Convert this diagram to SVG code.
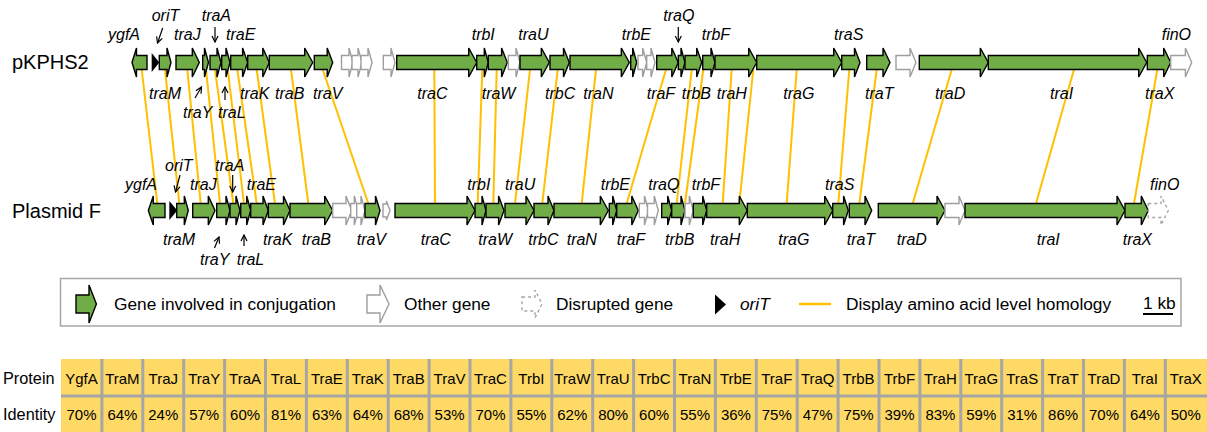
<svg xmlns="http://www.w3.org/2000/svg" width="1207" height="432" viewBox="0 0 1207 432">
<defs>
<style>
.g{fill:#70AD47;stroke:#000;stroke-width:1.4}
.o{fill:#fff;stroke:#9E9E9E;stroke-width:1.4}
.d{fill:none;stroke:#A6A6A6;stroke-width:1.4;stroke-dasharray:3 3}
.ori{fill:#000}
.hom line{stroke:#FFC000;stroke-width:2}
.lab{font-family:"Liberation Sans",Arial,sans-serif;font-size:16px;font-style:italic;fill:#000}
.ptr{stroke:#000;stroke-width:1.2;fill:none;marker-end:url(#tip)}
.trk{font-family:"Liberation Sans",Arial,sans-serif;font-size:20px;fill:#000}
.leg{font-family:"Liberation Sans",Arial,sans-serif;font-size:17.3px;fill:#000}
.cell{font-family:"Liberation Sans",Arial,sans-serif;font-size:15px;fill:#000;text-anchor:middle}
.rowlab{font-family:"Liberation Sans",Arial,sans-serif;font-size:16.3px;fill:#000}
</style>
<marker id="tip" viewBox="0 0 8 8" refX="7" refY="4" markerWidth="8" markerHeight="8" markerUnits="userSpaceOnUse" orient="auto">
<path d="M1,1L7,4L1,7" fill="none" stroke="#000" stroke-width="1.2"/>
</marker>
</defs>
<rect width="1207" height="432" fill="#fff"/>

<!-- homology connectors between the two plasmids -->
<g id="connectors" class="hom">
<line x1="141.7" y1="69.5" x2="157.3" y2="203.5"/>
<line x1="165" y1="69.5" x2="179.3" y2="203.5"/>
<line x1="187.3" y1="69.5" x2="200.7" y2="203.5"/>
<line x1="206" y1="69.5" x2="220" y2="203.5"/>
<line x1="215" y1="69.5" x2="233.3" y2="203.5"/>
<line x1="227.7" y1="69.5" x2="244" y2="203.5"/>
<line x1="237.3" y1="69.5" x2="256.7" y2="203.5"/>
<line x1="256.7" y1="69.5" x2="275" y2="203.5"/>
<line x1="291" y1="69.5" x2="308.3" y2="203.5"/>
<line x1="322.7" y1="69.5" x2="368.3" y2="203.5"/>
<line x1="434.3" y1="69.5" x2="435" y2="203.5"/>
<line x1="482.3" y1="69.5" x2="477.7" y2="203.5"/>
<line x1="496.7" y1="69.5" x2="493.3" y2="203.5"/>
<line x1="530" y1="69.5" x2="515" y2="203.5"/>
<line x1="557.7" y1="69.5" x2="542.3" y2="203.5"/>
<line x1="596" y1="69.5" x2="581.7" y2="203.5"/>
<line x1="666" y1="69.5" x2="626.7" y2="203.5"/>
<line x1="691.7" y1="69.5" x2="676.7" y2="203.5"/>
<line x1="703.3" y1="69.5" x2="685" y2="203.5"/>
<line x1="731.7" y1="69.5" x2="722.7" y2="203.5"/>
<line x1="753.3" y1="69.5" x2="739.3" y2="203.5"/>
<line x1="796.7" y1="69.5" x2="786.7" y2="203.5"/>
<line x1="849.3" y1="69.5" x2="838.3" y2="203.5"/>
<line x1="876.7" y1="69.5" x2="859.3" y2="203.5"/>
<line x1="951.7" y1="69.5" x2="912.7" y2="203.5"/>
<line x1="1074" y1="69.5" x2="1036" y2="203.5"/>
<line x1="1157.3" y1="69.5" x2="1134" y2="203.5"/>
</g>

<!-- pKPHS2 -->
<g id="pKPHS2">
<text class="trk" x="12" y="69">pKPHS2</text>
<g id="a-ygfA"><path class="g" d="M147,55.5H136.5V48L132,62.5L136.5,77V69.5H147Z"/><text class="lab" x="108" y="40">ygfA</text></g>
<g id="a-traM"><path class="g" d="M159.3,55.5H167V48L171,62.5L167,77V69.5H159.3Z"/><text class="lab" x="149" y="99">traM</text></g>
<g id="a-oriT"><path class="ori" d="M151.7,53L159.3,62.5L151.7,72Z"/><text class="lab" x="151.7" y="21">oriT</text><path class="ptr" d="M162.7,28L157.5,43"/></g>
<g id="a-traJ"><path class="g" d="M176,55.5H192.3V48L199.3,62.5L192.3,77V69.5H176Z"/><text class="lab" x="174" y="40">traJ</text></g>
<g id="a-traY"><path class="g" d="M202.7,55.5H204.5V48L208.5,62.5L204.5,77V69.5H202.7Z"/><text class="lab" x="183" y="118">traY</text><path class="ptr" d="M195,98L201.5,87"/></g>
<g id="a-traA"><path class="g" d="M210,55.5H217V48L221,62.5L217,77V69.5H210Z"/><text class="lab" x="201.7" y="21">traA</text><path class="ptr" d="M215,27V42"/></g>
<g id="a-traL"><path class="g" d="M221.7,55.5H226V48L230,62.5L226,77V69.5H221.7Z"/><text class="lab" x="218" y="118">traL</text><path class="ptr" d="M225,100V87"/></g>
<g id="a-traE"><path class="g" d="M230.7,55.5H242.6V48L247.7,62.5L242.6,77V69.5H230.7Z"/><text class="lab" x="226" y="40">traE</text></g>
<g id="a-traK"><path class="g" d="M247.7,55.5H262.8V48L269.3,62.5L262.8,77V69.5H247.7Z"/><text class="lab" x="240" y="99">traK</text></g>
<g id="a-traB"><path class="g" d="M269.3,55.5H304.7V48L312.7,62.5L304.7,77V69.5H269.3Z"/><text class="lab" x="275" y="99">traB</text></g>
<g id="a-traV"><path class="g" d="M314.3,55.5H327.2V48L332.7,62.5L327.2,77V69.5H314.3Z"/><text class="lab" x="313" y="99">traV</text></g>
<g id="a-other1">
<path class="o" d="M341.5,55.5H349V48L353,62.5L349,77V69.5H341.5Z"/>
<path class="o" d="M352,55.5H358V48L362,62.5L358,77V69.5H352Z"/>
<path class="o" d="M361,55.5H368V48L372,62.5L368,77V69.5H361Z"/>
<path class="o" d="M383.3,55.5H391V48L395,62.5L391,77V69.5H383.3Z"/>
</g>
<g id="a-traC"><path class="g" d="M396.7,55.5H468.7V48L476.7,62.5L468.7,77V69.5H396.7Z"/><text class="lab" x="417.3" y="99">traC</text></g>
<g id="a-trbI"><path class="g" d="M476.7,55.5H484.3V48L488.3,62.5L484.3,77V69.5H476.7Z"/><text class="lab" x="471.7" y="40">trbI</text></g>
<g id="a-traW"><path class="g" d="M488.3,55.5H501.6V48L507.3,62.5L501.6,77V69.5H488.3Z"/><text class="lab" x="481.7" y="99">traW</text></g>
<g id="a-other2"><path class="o" d="M508.3,55.5H516V48L520,62.5L516,77V69.5H508.3Z"/></g>
<g id="a-traU"><path class="g" d="M520,55.5H541.3V48L549.3,62.5L541.3,77V69.5H520Z"/><text class="lab" x="518.3" y="40">traU</text></g>
<g id="a-trbC"><path class="g" d="M550,55.5H563.5V48L569.3,62.5L563.5,77V69.5H550Z"/><text class="lab" x="545" y="99">trbC</text></g>
<g id="a-traN"><path class="g" d="M570,55.5H621.3V48L629.3,62.5L621.3,77V69.5H570Z"/><text class="lab" x="583.3" y="99">traN</text></g>
<g id="a-trbE"><path class="g" d="M630.7,55.5H632.7V48L636.7,62.5L632.7,77V69.5H630.7Z"/><text class="lab" x="621.7" y="40">trbE</text></g>
<g id="a-other3">
<path class="o" d="M638,55.5H642.7V48L646.7,62.5L642.7,77V69.5H638Z"/>
<path class="o" d="M646.7,55.5H651V48L655,62.5L651,77V69.5H646.7Z"/>
</g>
<g id="a-traF"><path class="g" d="M656.7,55.5H671.8V48L678.3,62.5L671.8,77V69.5H656.7Z"/><text class="lab" x="646.7" y="99">traF</text></g>
<g id="a-traQ"><path class="g" d="M678.3,55.5H681V48L685,62.5L681,77V69.5H678.3Z"/><text class="lab" x="663.3" y="21">traQ</text><path class="ptr" d="M678.3,27V42"/></g>
<g id="a-trbB"><path class="g" d="M685,55.5H696.7V48L701.7,62.5L696.7,77V69.5H685Z"/><text class="lab" x="681.7" y="99">trbB</text></g>
<g id="a-trbF"><path class="g" d="M702.7,55.5H711V48L715,62.5L711,77V69.5H702.7Z"/><text class="lab" x="701.7" y="40">trbF</text></g>
<g id="a-traH"><path class="g" d="M715,55.5H748.7V48L756.7,62.5L748.7,77V69.5H715Z"/><text class="lab" x="716.7" y="99">traH</text></g>
<g id="a-traG"><path class="g" d="M756.7,55.5H833.7V48L841.7,62.5L833.7,77V69.5H756.7Z"/><text class="lab" x="783.3" y="99">traG</text></g>
<g id="a-traS"><path class="g" d="M841.7,55.5H854.5V48L860,62.5L854.5,77V69.5H841.7Z"/><text class="lab" x="834" y="40">traS</text></g>
<g id="a-traT"><path class="g" d="M866.7,55.5H883V48L890,62.5L883,77V69.5H866.7Z"/><text class="lab" x="865" y="99">traT</text></g>
<g id="a-other4"><path class="o" d="M896,55.5H910V48L916,62.5L910,77V69.5H896Z"/></g>
<g id="a-traD"><path class="g" d="M919.3,55.5H980.3V48L988.3,62.5L980.3,77V69.5H919.3Z"/><text class="lab" x="935" y="99">traD</text></g>
<g id="a-traI"><path class="g" d="M988.3,55.5H1138.7V48L1146.7,62.5L1138.7,77V69.5H988.3Z"/><text class="lab" x="1050" y="99">traI</text></g>
<g id="a-traX"><path class="g" d="M1147.3,55.5H1163.7V48L1170.7,62.5L1163.7,77V69.5H1147.3Z"/><text class="lab" x="1145" y="99">traX</text></g>
<g id="a-finO"><path class="o" d="M1170.7,55.5H1185.4V48L1191.7,62.5L1185.4,77V69.5H1170.7Z"/><text class="lab" x="1161.7" y="40">finO</text></g>
</g>

<!-- Plasmid F -->
<g id="plasmidF">
<text class="trk" x="12" y="218">Plasmid F</text>
<g id="b-ygfA"><path class="g" d="M165,203.5H153.3V196L148.3,210.5L153.3,225V217.5H165Z"/><text class="lab" x="125" y="189.5">ygfA</text></g>
<g id="b-traM"><path class="g" d="M176.7,203.5H184.3V196L188.3,210.5L184.3,225V217.5H176.7Z"/><text class="lab" x="163" y="245">traM</text></g>
<g id="b-oriT"><path class="ori" d="M169.3,201L177.3,210.5L169.3,220Z"/><text class="lab" x="165" y="171">oriT</text><path class="ptr" d="M180,175L175.5,192"/></g>
<g id="b-traJ"><path class="g" d="M192.7,203.5H208.3V196L215,210.5L208.3,225V217.5H192.7Z"/><text class="lab" x="190" y="189.5">traJ</text></g>
<g id="b-traY"><path class="g" d="M216.7,203.5H226V196L230,210.5L226,225V217.5H216.7Z"/><text class="lab" x="200" y="265">traY</text><path class="ptr" d="M214.5,248L219,237"/></g>
<g id="b-traA"><path class="g" d="M230,203.5H236V196L240,210.5L236,225V217.5H230Z"/><text class="lab" x="215" y="171">traA</text><path class="ptr" d="M232.7,175V192"/></g>
<g id="b-traL"><path class="g" d="M240.7,203.5H246.7V196L250.7,210.5L246.7,225V217.5H240.7Z"/><text class="lab" x="236.7" y="265">traL</text><path class="ptr" d="M244,246V235"/></g>
<g id="b-traE"><path class="g" d="M250.7,203.5H263V196L268.3,210.5L263,225V217.5H250.7Z"/><text class="lab" x="246.7" y="189.5">traE</text></g>
<g id="b-traK"><path class="g" d="M268.3,203.5H283.5V196L290,210.5L283.5,225V217.5H268.3Z"/><text class="lab" x="263" y="245">traK</text></g>
<g id="b-traB"><path class="g" d="M290,203.5H324.7V196L332.7,210.5L324.7,225V217.5H290Z"/><text class="lab" x="301.7" y="245">traB</text></g>
<g id="b-other1">
<path class="o" d="M332.7,203.5H346V196L351.7,210.5L346,225V217.5H332.7Z"/>
<path class="o" d="M350.7,203.5H354.3V196L358.3,210.5L354.3,225V217.5H350.7Z"/>
<path class="o" d="M356.7,203.5H361V196L365,210.5L361,225V217.5H356.7Z"/>
</g>
<g id="b-traV"><path class="g" d="M365,203.5H375.5V196L380,210.5L375.5,225V217.5H365Z"/><text class="lab" x="356.7" y="245">traV</text></g>
<g id="b-other2"><path class="o" d="M383,204H386.5V201L390,210.5L386.5,220V217H383Z"/></g>
<g id="b-traC"><path class="g" d="M395,203.5H467V196L475,210.5L467,225V217.5H395Z"/><text class="lab" x="420.7" y="245">traC</text></g>
<g id="b-trbI"><path class="g" d="M475,203.5H482V196L486,210.5L482,225V217.5H475Z"/><text class="lab" x="467.3" y="189.5">trbI</text></g>
<g id="b-traW"><path class="g" d="M486,203.5H498.6V196L504,210.5L498.6,225V217.5H486Z"/><text class="lab" x="478.3" y="245">traW</text></g>
<g id="b-traU"><path class="g" d="M505,203.5H526V196L534,210.5L526,225V217.5H505Z"/><text class="lab" x="505" y="189.5">traU</text></g>
<g id="b-trbC"><path class="g" d="M534,203.5H548V196L554,210.5L548,225V217.5H534Z"/><text class="lab" x="528.3" y="245">trbC</text></g>
<g id="b-traN"><path class="g" d="M554,203.5H600.3V196L608.3,210.5L600.3,225V217.5H554Z"/><text class="lab" x="566.7" y="245">traN</text></g>
<g id="b-trbE"><path class="g" d="M609.3,203.5H612.7V196L616.7,210.5L612.7,225V217.5H609.3Z"/><text class="lab" x="600.7" y="189.5">trbE</text></g>
<g id="b-traF"><path class="g" d="M616.7,203.5H631.8V196L638.3,210.5L631.8,225V217.5H616.7Z"/><text class="lab" x="616.7" y="245">traF</text></g>
<g id="b-other3">
<path class="o" d="M639.3,203.5H644.5V196L648.5,210.5L644.5,225V217.5H639.3Z"/>
<path class="o" d="M647.5,203.5H654.3V196L658.3,210.5L654.3,225V217.5H647.5Z"/>
</g>
<g id="b-traQ"><path class="g" d="M661.7,203.5H667.7V196L671.7,210.5L667.7,225V217.5H661.7Z"/><text class="lab" x="648.3" y="189.5">traQ</text></g>
<g id="b-trbB"><path class="g" d="M671.7,203.5H681V196L685,210.5L681,225V217.5H671.7Z"/><text class="lab" x="665" y="245">trbB</text></g>
<g id="b-other4"><path class="o" d="M685,203.5H689.3V196L693.3,210.5L689.3,225V217.5H685Z"/></g>
<g id="b-trbF"><path class="g" d="M693.3,203.5H702.7V196L706.7,210.5L702.7,225V217.5H693.3Z"/><text class="lab" x="691.7" y="189.5">trbF</text></g>
<g id="b-traH"><path class="g" d="M706.7,203.5H739.3V196L747.3,210.5L739.3,225V217.5H706.7Z"/><text class="lab" x="710" y="245">traH</text></g>
<g id="b-traG"><path class="g" d="M747.3,203.5H824.7V196L832.7,210.5L824.7,225V217.5H747.3Z"/><text class="lab" x="778.3" y="245">traG</text></g>
<g id="b-traS"><path class="g" d="M832.7,203.5H843.6V196L848.3,210.5L843.6,225V217.5H832.7Z"/><text class="lab" x="825" y="189.5">traS</text></g>
<g id="b-traT"><path class="g" d="M849.3,203.5H865V196L871.7,210.5L865,225V217.5H849.3Z"/><text class="lab" x="846.7" y="245">traT</text></g>
<g id="b-traD"><path class="g" d="M878.3,203.5H937V196L945,210.5L937,225V217.5H878.3Z"/><text class="lab" x="896.7" y="245">traD</text></g>
<g id="b-other5"><path class="o" d="M945,203.5H959V196L965,210.5L959,225V217.5H945Z"/></g>
<g id="b-traI"><path class="g" d="M965,203.5H1117V196L1125,210.5L1117,225V217.5H965Z"/><text class="lab" x="1036.7" y="245">traI</text></g>
<g id="b-traX"><path class="g" d="M1125,203.5H1141.3V196L1148.3,210.5L1141.3,225V217.5H1125Z"/><text class="lab" x="1122.7" y="245">traX</text></g>
<g id="b-finO"><path class="d" d="M1148.3,203.5H1161V196L1168.3,210.5L1161,225V217.5H1148.3Z"/><text class="lab" x="1150" y="189.5">finO</text></g>
</g>

<!-- legend -->
<g id="legend">
<rect x="60.5" y="278.5" width="1120.5" height="47.5" fill="#fff" stroke="#A6A6A6" stroke-width="1.5"/>
<path class="g" d="M76,295H89V285L96.4,304L89,323V313H76Z"/>
<text class="leg" x="114" y="310">Gene involved in conjugation</text>
<path class="o" d="M367,295H380V285L389,304L380,323V313H367Z"/>
<text class="leg" x="404" y="310">Other gene</text>
<path class="d" d="M522,297H535V290L542,304L535,318V311H522Z"/>
<text class="leg" x="556" y="310">Disrupted gene</text>
<path class="ori" d="M715,294.5L726,304.5L715,314.5Z"/>
<text class="leg" x="740" y="310" font-style="italic">oriT</text>
<line x1="799" y1="304" x2="831" y2="304" stroke="#FFC000" stroke-width="2.5"/>
<text class="leg" x="846" y="310">Display amino acid level homology</text>
<text class="leg" x="1143" y="309">1 kb</text>
<line x1="1143" y1="314" x2="1173" y2="314" stroke="#000" stroke-width="2"/>
</g>

<!-- identity table -->
<g id="table">
<rect x="61" y="359" width="1146" height="73" fill="#FFD966"/>
<path d="M101.9,359V432M142.8,359V432M183.7,359V432M224.6,359V432M265.5,359V432M306.4,359V432M347.3,359V432M388.2,359V432M429.1,359V432M470,359V432M510.9,359V432M551.8,359V432M592.7,359V432M633.6,359V432M674.5,359V432M715.4,359V432M756.3,359V432M797.2,359V432M838.1,359V432M879,359V432M919.9,359V432M960.8,359V432M1001.7,359V432M1042.6,359V432M1083.5,359V432M1124.4,359V432M1165.3,359V432M61,396H1207" stroke="#A6A6A6" stroke-width="3" fill="none"/>
<text class="rowlab" x="3" y="384">Protein</text>
<text class="rowlab" x="3" y="420">Identity</text>
<text class="cell" x="81.5" y="384">YgfA</text>
<text class="cell" x="122.4" y="384">TraM</text>
<text class="cell" x="163.3" y="384">TraJ</text>
<text class="cell" x="204.2" y="384">TraY</text>
<text class="cell" x="245.1" y="384">TraA</text>
<text class="cell" x="286" y="384">TraL</text>
<text class="cell" x="326.9" y="384">TraE</text>
<text class="cell" x="367.8" y="384">TraK</text>
<text class="cell" x="408.7" y="384">TraB</text>
<text class="cell" x="449.6" y="384">TraV</text>
<text class="cell" x="490.5" y="384">TraC</text>
<text class="cell" x="531.4" y="384">TrbI</text>
<text class="cell" x="572.3" y="384">TraW</text>
<text class="cell" x="613.2" y="384">TraU</text>
<text class="cell" x="654.1" y="384">TrbC</text>
<text class="cell" x="695" y="384">TraN</text>
<text class="cell" x="735.9" y="384">TrbE</text>
<text class="cell" x="776.8" y="384">TraF</text>
<text class="cell" x="817.7" y="384">TraQ</text>
<text class="cell" x="858.6" y="384">TrbB</text>
<text class="cell" x="899.5" y="384">TrbF</text>
<text class="cell" x="940.4" y="384">TraH</text>
<text class="cell" x="981.3" y="384">TraG</text>
<text class="cell" x="1022.2" y="384">TraS</text>
<text class="cell" x="1063.1" y="384">TraT</text>
<text class="cell" x="1104" y="384">TraD</text>
<text class="cell" x="1144.9" y="384">TraI</text>
<text class="cell" x="1185.8" y="384">TraX</text>
<text class="cell" x="81.5" y="420">70%</text>
<text class="cell" x="122.4" y="420">64%</text>
<text class="cell" x="163.3" y="420">24%</text>
<text class="cell" x="204.2" y="420">57%</text>
<text class="cell" x="245.1" y="420">60%</text>
<text class="cell" x="286" y="420">81%</text>
<text class="cell" x="326.9" y="420">63%</text>
<text class="cell" x="367.8" y="420">64%</text>
<text class="cell" x="408.7" y="420">68%</text>
<text class="cell" x="449.6" y="420">53%</text>
<text class="cell" x="490.5" y="420">70%</text>
<text class="cell" x="531.4" y="420">55%</text>
<text class="cell" x="572.3" y="420">62%</text>
<text class="cell" x="613.2" y="420">80%</text>
<text class="cell" x="654.1" y="420">60%</text>
<text class="cell" x="695" y="420">55%</text>
<text class="cell" x="735.9" y="420">36%</text>
<text class="cell" x="776.8" y="420">75%</text>
<text class="cell" x="817.7" y="420">47%</text>
<text class="cell" x="858.6" y="420">75%</text>
<text class="cell" x="899.5" y="420">39%</text>
<text class="cell" x="940.4" y="420">83%</text>
<text class="cell" x="981.3" y="420">59%</text>
<text class="cell" x="1022.2" y="420">31%</text>
<text class="cell" x="1063.1" y="420">86%</text>
<text class="cell" x="1104" y="420">70%</text>
<text class="cell" x="1144.9" y="420">64%</text>
<text class="cell" x="1185.8" y="420">50%</text>
</g>
</svg>
